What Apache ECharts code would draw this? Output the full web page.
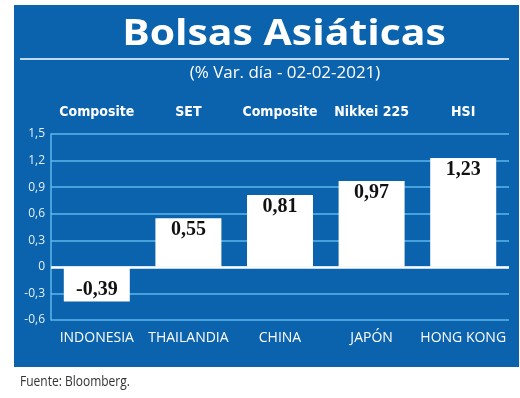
<!DOCTYPE html>
<html><head><meta charset="utf-8">
<script src="https://cdn.jsdelivr.net/npm/echarts@6/dist/echarts.min.js"></script>
<style>html,body{margin:0;padding:0;background:#fff}#c{width:520px;height:398px}</style>
</head><body><div id="c"></div>
<script>
const countries = ['INDONESIA', 'THAILANDIA', 'CHINA', 'JAPÓN', 'HONG KONG'];
const indices = ['Composite', 'SET', 'Composite', 'Nikkei 225', 'HSI'];
const values = [-0.39, 0.55, 0.81, 0.97, 1.23];
const yMin = -0.6, yMax = 1.5, yInterval = 0.3;
const titleText = 'Bolsas Asiáticas';
const subtitleText = '(% Var. día - 02-02-2021)';
const sourceText = 'Fuente: Bloomberg.';

const BLUE = '#0b63ae';
const GRIDC = '#5cb6ea';
const chart = echarts.init(document.getElementById('c'), null, {renderer: 'canvas'});
const fmt1 = v => (Math.round(v * 10) / 10).toString().replace('.', ',');
const fmt2 = v => (Math.round(v * 100) / 100).toFixed(2).replace('.', ',');

const option = {
  backgroundColor: '#ffffff',
  animation: false,
  graphic: [
    {type: 'rect', z: -10, shape: {x: 14, y: 5, width: 505, height: 362}, style: {fill: BLUE}},
    {type: 'line', shape: {x1: 20, y1: 59, x2: 509, y2: 59}, style: {stroke: '#ffffff', lineWidth: 1.5}},
    {type: 'text', x: 284, y: 35, scaleX: 1.17,
      style: {text: titleText, font: 'bold 35px "Open Sans"', fill: '#ffffff', align: 'center', verticalAlign: 'middle'}},
    {type: 'text', x: 285, y: 73, scaleX: 1.06,
      style: {text: subtitleText, font: '16px "Open Sans"', fill: '#ffffff', align: 'center', verticalAlign: 'middle'}},
    {type: 'text', x: 20, y: 382, scaleX: 0.8,
      style: {text: sourceText, font: '15px "Open Sans"', fill: '#333333', align: 'left', verticalAlign: 'middle'}}
  ],
  grid: {left: 51, right: 11, top: 134, bottom: 78, containLabel: false},
  xAxis: [
    {type: 'category', data: countries, position: 'bottom',
      axisLine: {show: false}, axisTick: {show: false},
      axisLabel: {interval: 0, color: '#ffffff', fontFamily: 'Open Sans', fontSize: 14, margin: 11}},
    {type: 'category', data: indices, position: 'top',
      axisLine: {show: false}, axisTick: {show: false},
      axisLabel: {interval: 0, color: '#ffffff', fontFamily: '"DejaVu Sans Condensed", "Open Sans"', fontWeight: 'bold', fontSize: 14, margin: 15}}
  ],
  yAxis: {
    type: 'value', min: yMin, max: yMax, interval: yInterval,
    axisLine: {show: true, lineStyle: {color: GRIDC, width: 1.5}},
    axisTick: {show: false},
    splitLine: {show: true, lineStyle: {color: GRIDC, width: 1.5}},
    axisLabel: {color: '#e3f0fa', fontFamily: 'Open Sans', fontSize: 12, margin: 6, formatter: v => fmt1(v)}
  },
  series: [{
    type: 'bar', xAxisIndex: 0,
    barWidth: 66,
    data: values.map(v => ({
      value: v,
      label: {position: v < 0 ? 'insideBottom' : 'insideTop'}
    })),
    itemStyle: {color: '#ffffff'},
    label: {show: true, distance: 2, color: '#111111', fontFamily: '"Liberation Serif"', fontWeight: 'bold', fontSize: 20,
      formatter: p => fmt2(p.value)},
    markLine: {
      silent: true, symbol: 'none', label: {show: false},
      lineStyle: {color: '#ffffff', width: 2.5, type: 'solid'},
      data: [{yAxis: 0}]
    }
  }]
};
chart.setOption(option);
</script></body></html>
